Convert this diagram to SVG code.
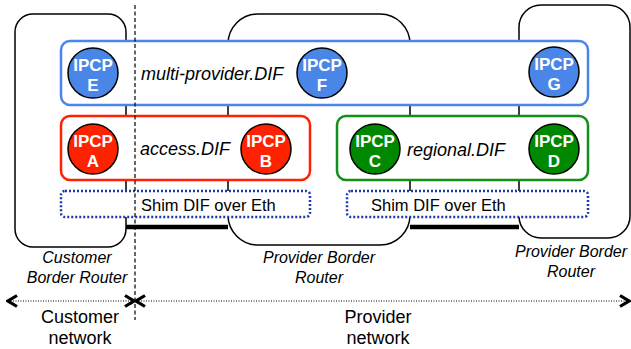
<svg xmlns="http://www.w3.org/2000/svg" width="631" height="349" viewBox="0 0 631 349">
<defs>
<style>
.router{fill:#fff;stroke:#000;stroke-width:1.5}
.dif{fill:#fff;stroke-width:2.5}
.shim{fill:#fff;stroke:#1a3aa8;stroke-width:2.5;stroke-dasharray:2 2}
.ipcp{stroke:#000;stroke-width:1.5}
.ip{font-family:"Liberation Sans",Arial,sans-serif;font-weight:bold;font-size:17px;fill:#fff;text-anchor:middle}
.difl{font-family:"Liberation Sans",Arial,sans-serif;font-style:italic;font-size:18px;fill:#000}
.shimt{font-family:"Liberation Sans",Arial,sans-serif;font-size:16.5px;fill:#000}
.rl{font-family:"Liberation Sans",Arial,sans-serif;font-style:italic;font-size:16px;fill:#000;text-anchor:middle}
.nl{font-family:"Liberation Sans",Arial,sans-serif;font-size:18px;fill:#000;text-anchor:middle}
</style>
<marker id="ah" markerWidth="14" markerHeight="14" viewBox="0 0 14 14" refX="12" refY="7" orient="auto-start-reverse" markerUnits="userSpaceOnUse">
<path d="M3,1.5 L12,7 L3,12.5" fill="none" stroke="#000" stroke-width="3.2"/>
</marker>
</defs>

<g id="router-customer"><rect class="router" x="15" y="14" width="111" height="233" rx="18"/></g>
<g id="router-provider"><rect class="router" x="228" y="14" width="182" height="231" rx="30"/></g>
<g id="router-provider2"><rect class="router" x="519" y="5" width="111" height="233" rx="22"/></g>

<g id="connectors">
<line x1="126" y1="227" x2="228" y2="227" stroke="#000" stroke-width="4.5"/>
<line x1="410" y1="227" x2="519" y2="227" stroke="#000" stroke-width="4.5"/>
</g>

<g id="dif-multi"><rect class="dif" x="61" y="41" width="527" height="64" rx="9" stroke="#4a86e8"/>
<text class="difl" x="141" y="80">multi-provider.DIF</text></g>
<g id="dif-access"><rect class="dif" x="61" y="116" width="249" height="64" rx="9" stroke="#ff2200"/>
<text class="difl" x="140" y="155">access.DIF</text></g>
<g id="dif-regional"><rect class="dif" x="337" y="116" width="251" height="64" rx="9" stroke="#10901a"/>
<text class="difl" x="407" y="156">regional.DIF</text></g>
<g id="shim1"><rect class="shim" x="61" y="191" width="249" height="26" rx="4"/>
<text class="shimt" x="141" y="211">Shim DIF over Eth</text></g>
<g id="shim2"><rect class="shim" x="347" y="191" width="241" height="26" rx="4"/>
<text class="shimt" x="371" y="211">Shim DIF over Eth</text></g>

<g id="ipcp-e"><circle class="ipcp" cx="93" cy="73" r="25" fill="#4a86e8"/><text class="ip" x="93" y="71">IPCP</text><text class="ip" x="93" y="91">E</text></g>
<g id="ipcp-f"><circle class="ipcp" cx="322" cy="73" r="25" fill="#4a86e8"/><text class="ip" x="322" y="71">IPCP</text><text class="ip" x="322" y="91">F</text></g>
<g id="ipcp-g"><circle class="ipcp" cx="554" cy="72" r="25" fill="#4a86e8"/><text class="ip" x="554" y="70">IPCP</text><text class="ip" x="554" y="90">G</text></g>
<g id="ipcp-a"><circle class="ipcp" cx="93" cy="149" r="25" fill="#ff2200"/><text class="ip" x="93" y="147">IPCP</text><text class="ip" x="93" y="167">A</text></g>
<g id="ipcp-b"><circle class="ipcp" cx="266" cy="149" r="25" fill="#ff2200"/><text class="ip" x="266" y="147">IPCP</text><text class="ip" x="266" y="167">B</text></g>
<g id="ipcp-c"><circle class="ipcp" cx="375" cy="149" r="25" fill="#008800"/><text class="ip" x="375" y="147">IPCP</text><text class="ip" x="375" y="167">C</text></g>
<g id="ipcp-d"><circle class="ipcp" cx="554" cy="149" r="25" fill="#008800"/><text class="ip" x="554" y="147">IPCP</text><text class="ip" x="554" y="167">D</text></g>

<g id="labels">
<text class="rl" x="77" y="263">Customer</text>
<text class="rl" x="77" y="283">Border Router</text>
<text class="rl" x="319" y="263">Provider Border</text>
<text class="rl" x="319" y="283">Router</text>
<text class="rl" x="571" y="257">Provider Border</text>
<text class="rl" x="571" y="277">Router</text>
<text class="nl" x="80" y="323">Customer</text>
<text class="nl" x="80" y="344">network</text>
<text class="nl" x="378" y="323">Provider</text>
<text class="nl" x="378" y="344">network</text>
</g>

<g id="network-arrows">
<line x1="8" y1="301" x2="134" y2="301" stroke="#000" stroke-width="1.2" stroke-dasharray="1 1.5" marker-start="url(#ah)" marker-end="url(#ah)"/>
<line x1="136" y1="301" x2="629" y2="301" stroke="#000" stroke-width="1.2" stroke-dasharray="1 1.5" marker-start="url(#ah)" marker-end="url(#ah)"/>
</g>
<g id="boundary"><line x1="135" y1="5" x2="135" y2="320" stroke="#000" stroke-width="1.2" stroke-dasharray="4 2.5"/></g>
</svg>
